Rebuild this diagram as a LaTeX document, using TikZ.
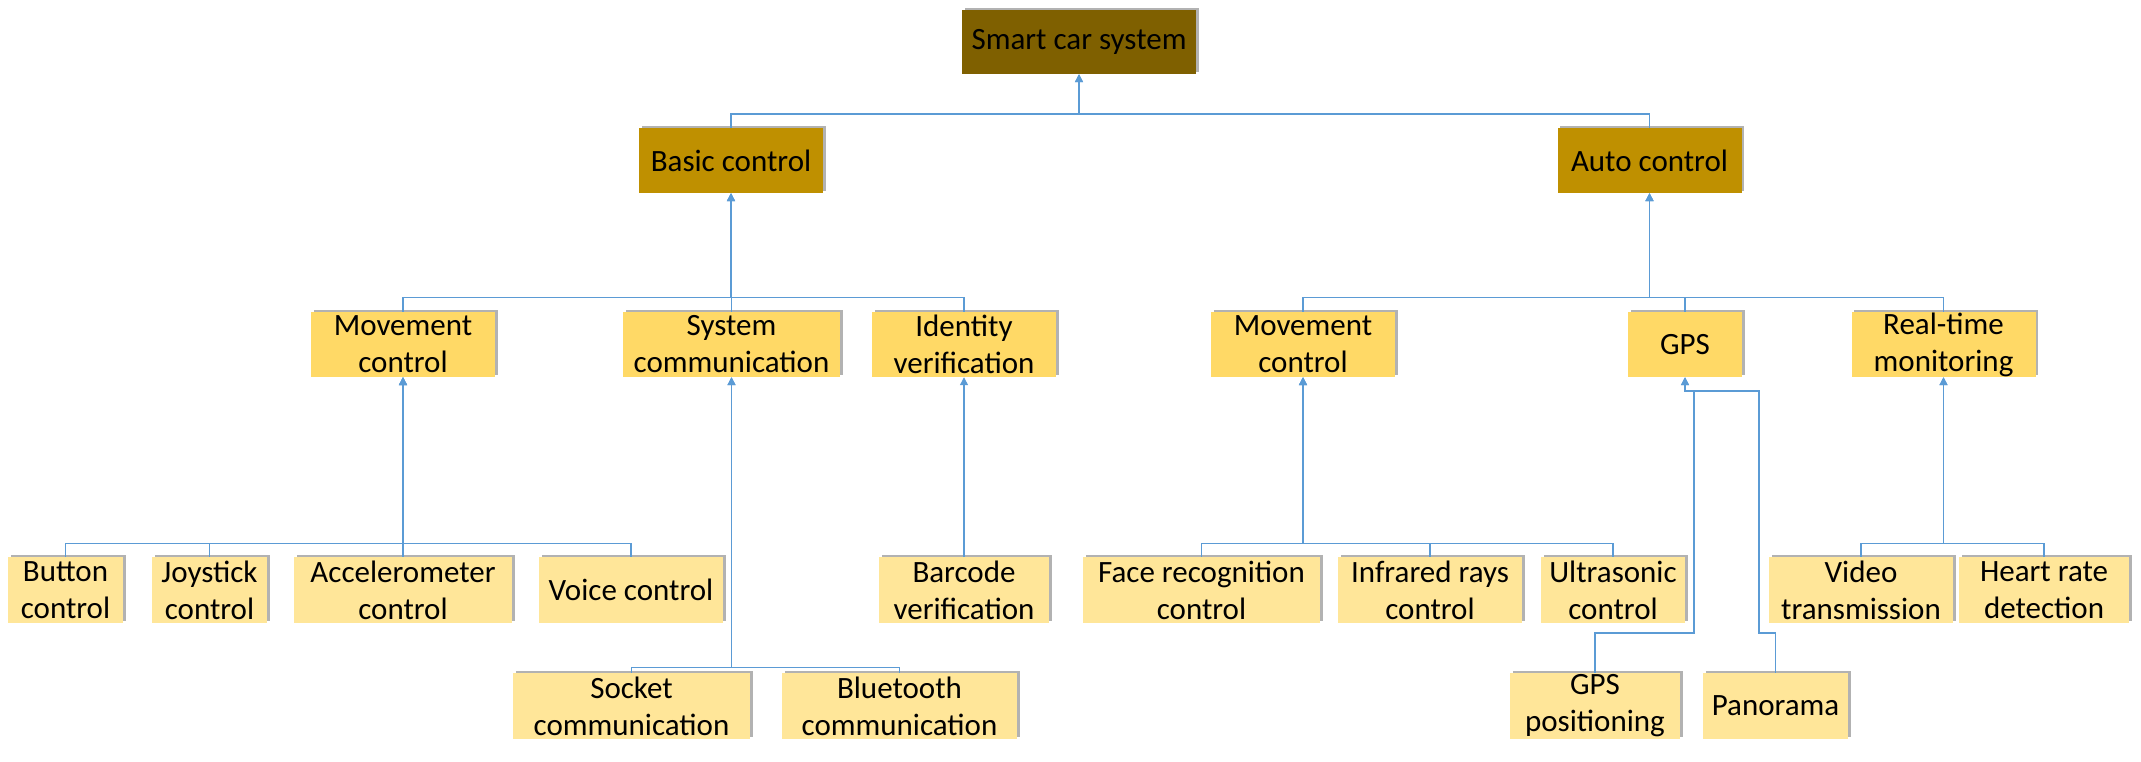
\documentclass[tikz,border=0pt]{standalone}
\usepackage{fontspec}
\setmainfont{Carlito}
\usepackage{xcolor}
\usepackage{tikz}
\usetikzlibrary{shapes,arrows.meta,positioning,shadows}

\definecolor{rootbrown}{HTML}{7F6000}
\definecolor{mainbrown}{HTML}{BF9000}
\definecolor{subyellow}{HTML}{FFD966}
\definecolor{leafyellow}{HTML}{FFE699}
\definecolor{linkblue}{HTML}{5B9BD5}

\begin{document}
\begin{tikzpicture}[
    x=1pt, y=-1pt,
    box/.style={rectangle, inner sep=0pt, align=center, font=\fontsize{31}{37}\selectfont, drop shadow={shadow xshift=2.5pt, shadow yshift=2.5pt, fill=black, opacity=0.3}},
    rootbox/.style={box, fill=rootbrown, minimum width=234pt, minimum height=64pt},
    mainbox/.style={box, fill=mainbrown, minimum width=184pt, minimum height=65pt},
    subbox/.style={box, fill=subyellow, minimum width=184pt, minimum height=65pt},
    leafbox/.style={box, fill=leafyellow, minimum width=184pt, minimum height=66pt},
    arrow/.style={-{Triangle[length=8pt, width=8pt]}, draw=linkblue, line width=1.2pt}
]
\useasboundingbox (0,0) rectangle (2141,761);

% Root
\node[rootbox] (root) at (1079,42) {Smart car system};

% Main branches
\node[mainbox] (basic) at (731,160.5) {Basic control};
\node[mainbox] (auto) at (1649.5,160.5) {Auto control};

% Basic control branch
\node[subbox] (bmove) at (403,344.5) {Movement\\control};
\node[subbox, minimum width=217pt] (syscomm) at (731.5,344.5) {System\\communication};
\node[subbox] (ident) at (964,344.5) {Identity\\verification};

% Auto control branch
\node[subbox] (amove) at (1303,344.5) {Movement\\control};
\node[subbox, minimum width=114pt] (gps) at (1685,344.5) {GPS};
\node[subbox] (monitor) at (1943.5,344.5) {Real-time\\monitoring};

% Leaves
\node[leafbox, minimum width=115pt] (button) at (65.5,590) {Button\\control};
\node[leafbox, minimum width=115pt] (joystick) at (209.5,590) {Joystick\\control};
\node[leafbox, minimum width=218pt] (accel) at (403,590) {Accelerometer\\control};
\node[leafbox] (voice) at (631,590) {Voice control};
\node[leafbox, minimum width=170pt] (barcode) at (964,590) {Barcode\\verification};
\node[leafbox, minimum width=237pt] (face) at (1201.5,590) {Face recognition\\control};
\node[leafbox] (infrared) at (1430,590) {Infrared rays\\control};
\node[leafbox, minimum width=144pt] (ultra) at (1613,590) {Ultrasonic\\control};
\node[leafbox] (video) at (1861,590) {Video\\transmission};
\node[leafbox, minimum width=170pt] (heart) at (2044,590) {Heart rate\\detection};

\node[leafbox, minimum width=237pt] (socket) at (631.5,706) {Socket\\communication};
\node[leafbox, minimum width=235pt] (bluetooth) at (899.5,706) {Bluetooth\\communication};
\node[leafbox, minimum width=170pt] (gpspos) at (1595,706) {GPS\\positioning};
\node[leafbox, minimum width=145pt] (panorama) at (1775.5,706) {Panorama};

% Connectors
\coordinate (topbus) at (1079,114);
\draw[arrow] (basic.north) |- (topbus) -- (root.south);
\draw[arrow] (auto.north) |- (topbus) -- (root.south);

\foreach \n in {bmove,syscomm,ident}
    \draw[arrow] (\n.north) -- ++(0,-14) -| (basic.south);
\foreach \n in {amove,gps,monitor}
    \draw[arrow] (\n.north) -- ++(0,-14) -| (auto.south);

\foreach \n in {button,joystick,accel,voice}
    \draw[arrow] (\n.north) -- ++(0,-13) -| (bmove.south);
\foreach \n in {socket,bluetooth}
    \draw[arrow] (\n.north) -- ++(0,-5) -| (syscomm.south);
\draw[arrow] (barcode.north) -- (ident.south);

\foreach \n in {face,infrared,ultra}
    \draw[arrow] (\n.north) -- ++(0,-13) -| (amove.south);
\foreach \n in {video,heart}
    \draw[arrow] (\n.north) -- ++(0,-13) -| (monitor.south);

\draw[arrow] (gpspos.north) |- (1694,633) -- (1694,391) -| (gps.south);
\draw[arrow] (panorama.north) |- (1759,633) -- (1759,391) -| (gps.south);

\end{tikzpicture}
\end{document}
